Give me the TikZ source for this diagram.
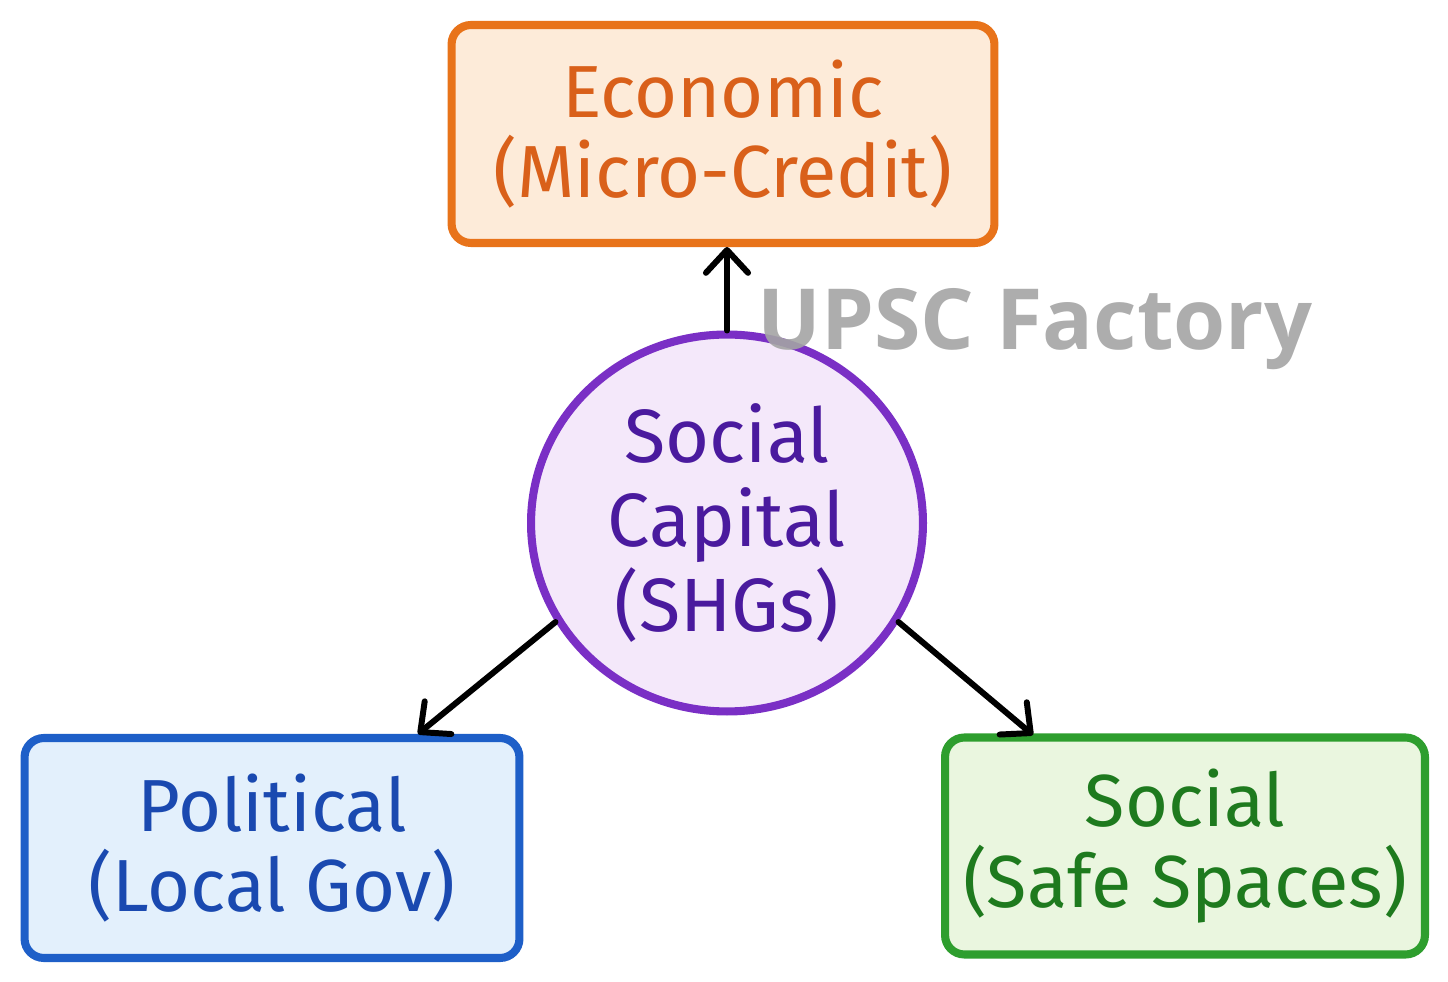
\documentclass[tikz,border=0pt]{standalone}
\usepackage{fontspec}
\setmainfont{Fira Sans}
\newfontfamily\markfont{Open Sans}
\usetikzlibrary{arrows.meta}
\usetikzlibrary{shapes.geometric}
\usetikzlibrary{positioning}

\definecolor{ecoline}{HTML}{E8731A}
\definecolor{ecofill}{HTML}{FDEBD9}
\definecolor{ecotext}{HTML}{D9601A}
\definecolor{capline}{HTML}{7A2FC5}
\definecolor{capfill}{HTML}{F4E8FA}
\definecolor{captext}{HTML}{4A1A9E}
\definecolor{polline}{HTML}{1E5FC8}
\definecolor{polfill}{HTML}{E3F0FC}
\definecolor{poltext}{HTML}{1A49B0}
\definecolor{socline}{HTML}{2E9E2E}
\definecolor{socfill}{HTML}{EAF6DF}
\definecolor{soctext}{HTML}{1E7A1E}
\definecolor{markgray}{HTML}{A4A4A4}

\tikzset{
    box/.style={draw, line width=4.6pt, rounded corners=11pt, align=center,
        font=\fontsize{42}{46}\selectfont, inner sep=0pt},
    hub/.style={draw, ellipse, line width=4.6pt, align=center, inner sep=0pt,
        minimum width=7.84cm, minimum height=7.54cm,
        font=\fontsize{43}{48}\selectfont},
    link/.style={-{Straight Barb[length=13pt,width=24pt,line width=3.4pt,round]},
        line width=3.4pt, line cap=round}
}

\begin{document}
\begin{tikzpicture}[x=0.02cm, y=-0.02cm]
        \useasboundingbox (0,0) rectangle (1448,982);
        \node [box, draw=ecoline, fill=ecofill, text=ecotext,
            minimum width=10.86cm, minimum height=4.36cm] (eco) at (723,134)
            {Economic\\(Micro-Credit)};
        \node [hub, draw=capline, fill=capfill, text=captext] (cap) at (727,523)
            {Social\\Capital\\(SHGs)};
        \node [box, draw=polline, fill=polfill, text=poltext,
            minimum width=9.9cm, minimum height=4.4cm] (pol) at (272,848)
            {Political\\(Local Gov)};
        \node [box, draw=socline, fill=socfill, text=soctext,
            minimum width=9.6cm, minimum height=4.34cm] (soc) at (1185,846)
            {Social\\(Safe Spaces)};
        \coordinate (polin) at (418,734);
        \coordinate (socin) at (1033,735);
        \draw [link] (cap.north) -- (cap.north |- eco.south);
        \draw [link] (cap.210) -- (polin);
        \draw [link] (cap.330) -- (socin);
        \node [anchor=base, text=markgray, opacity=0.9,
            font=\markfont\bfseries\fontsize{48}{50}\selectfont] (mark) at (1035,350)
            {UPSC Factory};
\end{tikzpicture}
\end{document}
